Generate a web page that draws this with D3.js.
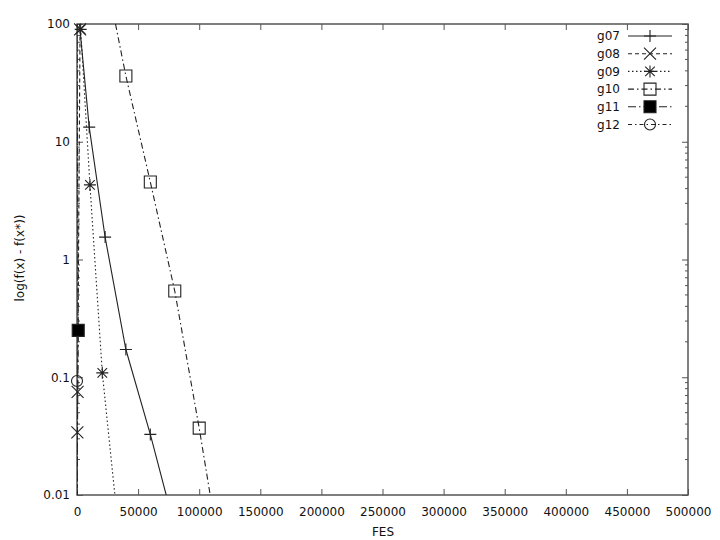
<!DOCTYPE html>
<html>
<head>
<meta charset="utf-8">
<script src="https://cdn.jsdelivr.net/npm/d3@7"></script>
<style>
  body { margin: 0; background: #fff; }
  text { font-family: "DejaVu Sans", sans-serif; font-size: 12px; fill: #111; }
</style>
</head>
<body>
<svg id="chart" width="720" height="540"></svg>
<script>
//

const seriesNames = ['g07', 'g08', 'g09', 'g10', 'g11', 'g12']

// [FES, log(f(x) - f(x*))]
const g07 = [[2000, 100], [10000, 13.3], [23000, 1.55], [40000, 0.172], [60000, 0.0327], [73000, 0.01]]
const g08 = [[2500, 90], [500, 0.075], [300, 0.034], [200, 0.01]]
const g09 = [[3000, 90], [10600, 4.3], [20700, 0.109], [31000, 0.01]]
const g10 = [[31500, 100], [40000, 36.2], [60000, 4.55], [80000, 0.54], [100000, 0.037], [109000, 0.01]]
const g11 = [[0, 100], [1000, 0.25], [0, 0.01]]
const g12 = [[0, 100], [0, 0.093], [0, 0.01]]

const seriesData = [g07, g08, g09, g10, g11, g12]
const xTicks = [0, 50000, 100000, 150000, 200000, 250000, 300000, 350000, 400000, 450000, 500000]
const yTicks = [0.01, 0.1, 1, 10, 100]

//

const styles = {
  g07: { dash: null, symbol: 'plus' },
  g08: { dash: '4,3', symbol: 'cross' },
  g09: { dash: '1.5,2.5', symbol: 'star' },
  g10: { dash: '6,3,1.5,3', symbol: 'square' },
  g11: { dash: '8,3,1.5,3', symbol: 'filledSquare' },
  g12: { dash: '4,3,1.5,3', symbol: 'circle' }
}

const svg = d3.select('#chart')
const plotLeft = 77
const plotRight = 688
const plotTop = 24
const plotBottom = 495

const x = d3.scaleLinear().domain([0, 500000]).range([plotLeft, plotRight])
const y = d3.scaleLog().domain([0.01, 100]).range([plotBottom, plotTop])

svg.append('defs').append('clipPath').attr('id', 'plot')
  .append('rect')
  .attr('x', plotLeft).attr('y', plotTop)
  .attr('width', plotRight - plotLeft).attr('height', plotBottom - plotTop)

// axes
const axisColor = '#555'

const styleAxis = (g) => {
  g.selectAll('.domain').remove()
  g.selectAll('.tick line').attr('stroke', axisColor).attr('stroke-width', 1)
  g.selectAll('text').attr('fill', '#111')
}

svg.append('g')
  .attr('transform', `translate(0,${plotBottom})`)
  .call(d3.axisBottom(x).tickValues(xTicks).tickFormat(d3.format('d'))
    .tickSizeInner(-6).tickSizeOuter(0).tickPadding(12))
  .call(styleAxis)
  .call((g) => g.selectAll('text').style('font-size', '12px').style('font-family', 'DejaVu Sans'))

svg.append('g')
  .attr('transform', `translate(0,${plotTop})`)
  .call(d3.axisTop(x).tickValues(xTicks).tickFormat('')
    .tickSizeInner(-6).tickSizeOuter(0))
  .call(styleAxis)

svg.append('g')
  .attr('transform', `translate(${plotLeft},0)`)
  .call(d3.axisLeft(y).tickValues(yTicks).tickFormat((d) => String(d))
    .tickSizeInner(-6).tickSizeOuter(0).tickPadding(7))
  .call(styleAxis)
  .call((g) => g.selectAll('text').style('font-size', '12px').style('font-family', 'DejaVu Sans'))

svg.append('g')
  .attr('transform', `translate(${plotRight},0)`)
  .call(d3.axisRight(y).tickValues(yTicks).tickFormat('')
    .tickSizeInner(-6).tickSizeOuter(0))
  .call(styleAxis)

// minor log ticks
const minor = []
yTicks.slice(0, -1).forEach((d) => {
  for (let k = 2; k <= 9; k++) minor.push(d * k)
})

svg.append('g')
  .selectAll('line')
  .data(minor)
  .join('line')
  .attr('x1', plotLeft).attr('x2', plotLeft + 3)
  .attr('y1', (d) => y(d)).attr('y2', (d) => y(d))
  .attr('stroke', axisColor)

svg.append('g')
  .selectAll('line')
  .data(minor)
  .join('line')
  .attr('x1', plotRight).attr('x2', plotRight - 3)
  .attr('y1', (d) => y(d)).attr('y2', (d) => y(d))
  .attr('stroke', axisColor)

// frame
svg.append('rect')
  .attr('x', plotLeft).attr('y', plotTop)
  .attr('width', plotRight - plotLeft).attr('height', plotBottom - plotTop)
  .attr('fill', 'none')
  .attr('stroke', axisColor)
  .attr('stroke-width', 1.5)

// labels
svg.append('text')
  .attr('x', (plotLeft + plotRight) / 2 + 0.5)
  .attr('y', 536)
  .attr('text-anchor', 'middle')
  .text('FES')

svg.append('text')
  .attr('transform', 'translate(24,258) rotate(-90)')
  .attr('text-anchor', 'middle')
  .text('log(f(x) - f(x*))')

//

const symbolPath = (type, s) => {
  const h = s / 2
  switch (type) {
    case 'plus': return `M${-h},0H${h}M0,${-h}V${h}`
    case 'cross': return `M${-h},${-h}L${h},${h}M${-h},${h}L${h},${-h}`
    case 'star': return `M${-h},0H${h}M0,${-h}V${h}M${-h * 0.8},${-h * 0.8}L${h * 0.8},${h * 0.8}M${-h * 0.8},${h * 0.8}L${h * 0.8},${-h * 0.8}`
    case 'square':
    case 'filledSquare': return `M${-h},${-h}H${h}V${h}H${-h}Z`
    case 'circle': return d3.arc()({ innerRadius: 0, outerRadius: h, startAngle: 0, endAngle: 2 * Math.PI })
  }
}

const drawSymbol = (g, type, cx, cy) => {
  g.append('path')
    .attr('transform', `translate(${cx},${cy})`)
    .attr('d', symbolPath(type, type === 'circle' ? 11 : 12))
    .attr('fill', type === 'filledSquare' ? '#000' : 'none')
    .attr('stroke', '#222')
    .attr('stroke-width', 1.1)
}

const line = d3.line()
  .x((d) => x(d[0]))
  .y((d) => y(d[1]))

const plot = svg.append('g').attr('clip-path', 'url(#plot)')

seriesNames.forEach((name, i) => {
  const st = styles[name]
  const data = seriesData[i]
  plot.append('path')
    .datum(data)
    .attr('d', line)
    .attr('fill', 'none')
    .attr('stroke', '#222')
    .attr('stroke-width', 1.1)
    .attr('stroke-dasharray', st.dash)

  data.filter((d) => d[1] > 0.01 && d[1] < 100).forEach((d) => {
    drawSymbol(svg, st.symbol, x(d[0]), y(d[1]))
  })
})

// legend
const legend = svg.append('g')
seriesNames.forEach((name, i) => {
  const st = styles[name]
  const ly = 36 + i * 17.7
  legend.append('text')
    .attr('x', 620)
    .attr('y', ly)
    .attr('dy', '0.35em')
    .attr('text-anchor', 'end')
    .text(name)
  legend.append('line')
    .attr('x1', 628).attr('x2', 672)
    .attr('y1', ly).attr('y2', ly)
    .attr('stroke', '#222')
    .attr('stroke-width', 1.1)
    .attr('stroke-dasharray', st.dash)
  drawSymbol(legend, st.symbol, 650, ly)
})
</script>
</body>
</html>
